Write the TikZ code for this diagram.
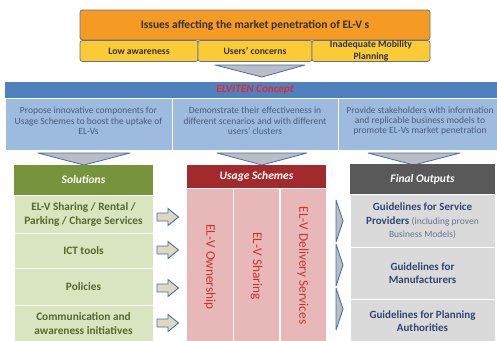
\documentclass[tikz,border=0pt]{standalone}
\usepackage{fontspec}
\setmainfont{Carlito}
\definecolor{orangeA}{HTML}{F59A23}
\definecolor{yellowA}{HTML}{FACB35}
\definecolor{outlA}{HTML}{5E7391}
\definecolor{blueHead}{HTML}{4F81BD}
\definecolor{blueCell}{HTML}{9DBBDE}
\definecolor{blueText}{HTML}{4A5C7A}
\definecolor{greenHead}{HTML}{77933C}
\definecolor{greenCell}{HTML}{D8E5BE}
\definecolor{greenText}{HTML}{56682F}
\definecolor{redHead}{HTML}{A2292C}
\definecolor{pinkCell}{HTML}{E8B7B7}
\definecolor{redText}{HTML}{C7352F}
\definecolor{grayHead}{HTML}{595959}
\definecolor{grayCell}{HTML}{DADADA}
\definecolor{navyText}{HTML}{2E4673}
\definecolor{chevFill}{HTML}{B9BDC6}
\definecolor{chevLine}{HTML}{4A6FA5}
\definecolor{tanFill}{HTML}{DDD8C2}
\definecolor{conceptRed}{HTML}{E8262B}
\begin{document}
\begin{tikzpicture}[x=1pt,y=-1pt,
  cellbase/.style={inner sep=0pt, align=center},
  issuebox/.style={cellbase, draw=outlA, line width=0.7pt, rounded corners=2.5pt},
  headbox/.style={cellbase, font=\bfseries\itshape\fontsize{11.5}{13}\selectfont, text=white},
  bluecell/.style={cellbase, fill=blueCell, draw=white, line width=1pt, minimum height=52pt},
  bluetext/.style={cellbase, text=blueText, font=\fontsize{9.5}{10.3}\selectfont},
  greencell/.style={cellbase, fill=greenCell, draw=white, line width=1pt, text=greenText, font=\bfseries\fontsize{11.3}{14}\selectfont, minimum width=139pt},
  pinkcell/.style={cellbase, fill=pinkCell, draw=white, line width=1pt, minimum height=155pt},
  vtext/.style={text=redText, font=\fontsize{13.3}{15}\selectfont, rotate=-90, inner sep=0pt},
  graycell/.style={cellbase, fill=grayCell, draw=white, line width=1pt, text=navyText, font=\bfseries\fontsize{11}{13.5}\selectfont, minimum width=145pt},
  chevron/.style={fill=chevFill, draw=chevLine, line width=0.8pt, line join=round},
  blockarrow/.style={fill=tanFill, draw=chevLine, line width=0.9pt, line join=miter},
  thinchev/.style={fill=chevFill, draw=chevLine, line width=0.9pt, line join=round}
]
\useasboundingbox (0,0) rectangle (497,340);
\fill[white] (0,0) rectangle (497,340);

% issues
\node[issuebox, fill=orangeA, minimum width=350pt, minimum height=30pt, font=\bfseries\fontsize{11.5}{13}\selectfont, text=black!80] (issues) at (255,25) {Issues affecting the market penetration of EL-V s};
\node[issuebox, fill=yellowA, minimum width=118pt, minimum height=21pt, font=\bfseries\fontsize{9.7}{12}\selectfont, text=black!80] (low) at (139,51) {Low awareness};
\node[issuebox, fill=yellowA, minimum width=114pt, minimum height=21pt, font=\bfseries\fontsize{9.7}{12}\selectfont, text=black!80] (users) at (255,51) {Users' concerns};
\node[issuebox, fill=yellowA, minimum width=118pt, minimum height=21pt, font=\bfseries\fontsize{9.7}{12}\selectfont, text=black!80] (inad) at (371,51) {Inadequate Mobility\\Planning};

\path[chevron] (215,65) -- (305,65) -- (262,77) -- cycle;

% concept
\node[cellbase, fill=blueHead, minimum width=500pt, minimum height=17pt, font=\bfseries\itshape\fontsize{11.2}{13}\selectfont, text=conceptRed] (concept) at (255,90) {ELVITEN Concept};
\node[bluecell, minimum width=167pt] (c1) at (88.5,124) {};
\node[bluecell, minimum width=166pt] (c2) at (255,124) {};
\node[bluecell, minimum width=164pt] (c3) at (420,124) {};
\node[bluetext] (c1t) at (88.5,121) {Propose innovative components for\\Usage Schemes to boost the uptake of\\EL-Vs};
\node[bluetext] (c2t) at (255,121) {Demonstrate their effectiveness in\\different scenarios and with different\\users' clusters};
\node[bluetext] (c3t) at (420,121) {Provide stakeholders with information\\and replicable business models to\\promote EL-Vs market penetration};

\path[chevron] (38,153) -- (130,153) -- (84,165) -- cycle;
\path[chevron] (217,153) -- (307,153) -- (262,165) -- cycle;
\path[chevron] (368,153) -- (460,153) -- (414,165) -- cycle;

% solutions
\node[headbox, fill=greenHead, minimum width=139pt, minimum height=30pt] (sol) at (83.5,180) {Solutions};
\node[greencell, minimum height=38pt] (s1) at (83.5,214) {EL-V Sharing / Rental /\\Parking / Charge Services};
\node[greencell, minimum height=35pt] (s2) at (83.5,250.5) {ICT tools};
\node[greencell, minimum height=37pt] (s3) at (83.5,286.5) {Policies};
\node[greencell, minimum height=38pt] (s4) at (83.5,324) {Communication and\\awareness initiatives};

\foreach \c in {217,250,288,323}{
  \path[blockarrow] (157,\c-4) -- (168,\c-4) -- (168,\c-8.5) -- (178.5,\c) -- (168,\c+8.5) -- (168,\c+4) -- (157,\c+4) -- cycle;
}

% usage schemes
\node[headbox, fill=redHead, minimum width=139pt, minimum height=23pt] (usage) at (256.5,176.5) {Usage Schemes};
\node[pinkcell, minimum width=47pt] (u1) at (210,265.5) {};
\node[pinkcell, minimum width=46pt] (u2) at (256.5,265.5) {};
\node[pinkcell, minimum width=46pt] (u3) at (303,265.5) {};
\node[vtext] (t1) at (210,267) {EL-V Ownership};
\node[vtext] (t2) at (256.5,266) {EL-V Sharing};
\node[vtext] (t3) at (303,265.5) {EL-V Delivery Services};

% thin chevrons
\path[thinchev] (336,200) -- (343,221) -- (336,242) -- cycle;
\path[thinchev] (336,244) -- (343,265) -- (336,286) -- cycle;
\path[thinchev] (336,288) -- (343,309) -- (336,330) -- cycle;

% final outputs
\node[headbox, fill=grayHead, minimum width=145pt, minimum height=31pt] (fin) at (422.5,179.5) {Final Outputs};
\node[graycell, minimum height=53pt] (f1) at (422.5,221) {Guidelines for Service\\Providers {\mdseries\fontsize{9.5}{13.5}\selectfont\color{navyText!75} (including proven}\\{\mdseries\fontsize{9.5}{13.5}\selectfont\color{navyText!75}Business Models)}};
\node[graycell, minimum height=52pt] (f2) at (422.5,273) {Guidelines for\\Manufacturers};
\node[graycell, minimum height=44pt] (f3) at (422.5,321) {Guidelines for Planning\\Authorities};
\end{tikzpicture}
\end{document}
